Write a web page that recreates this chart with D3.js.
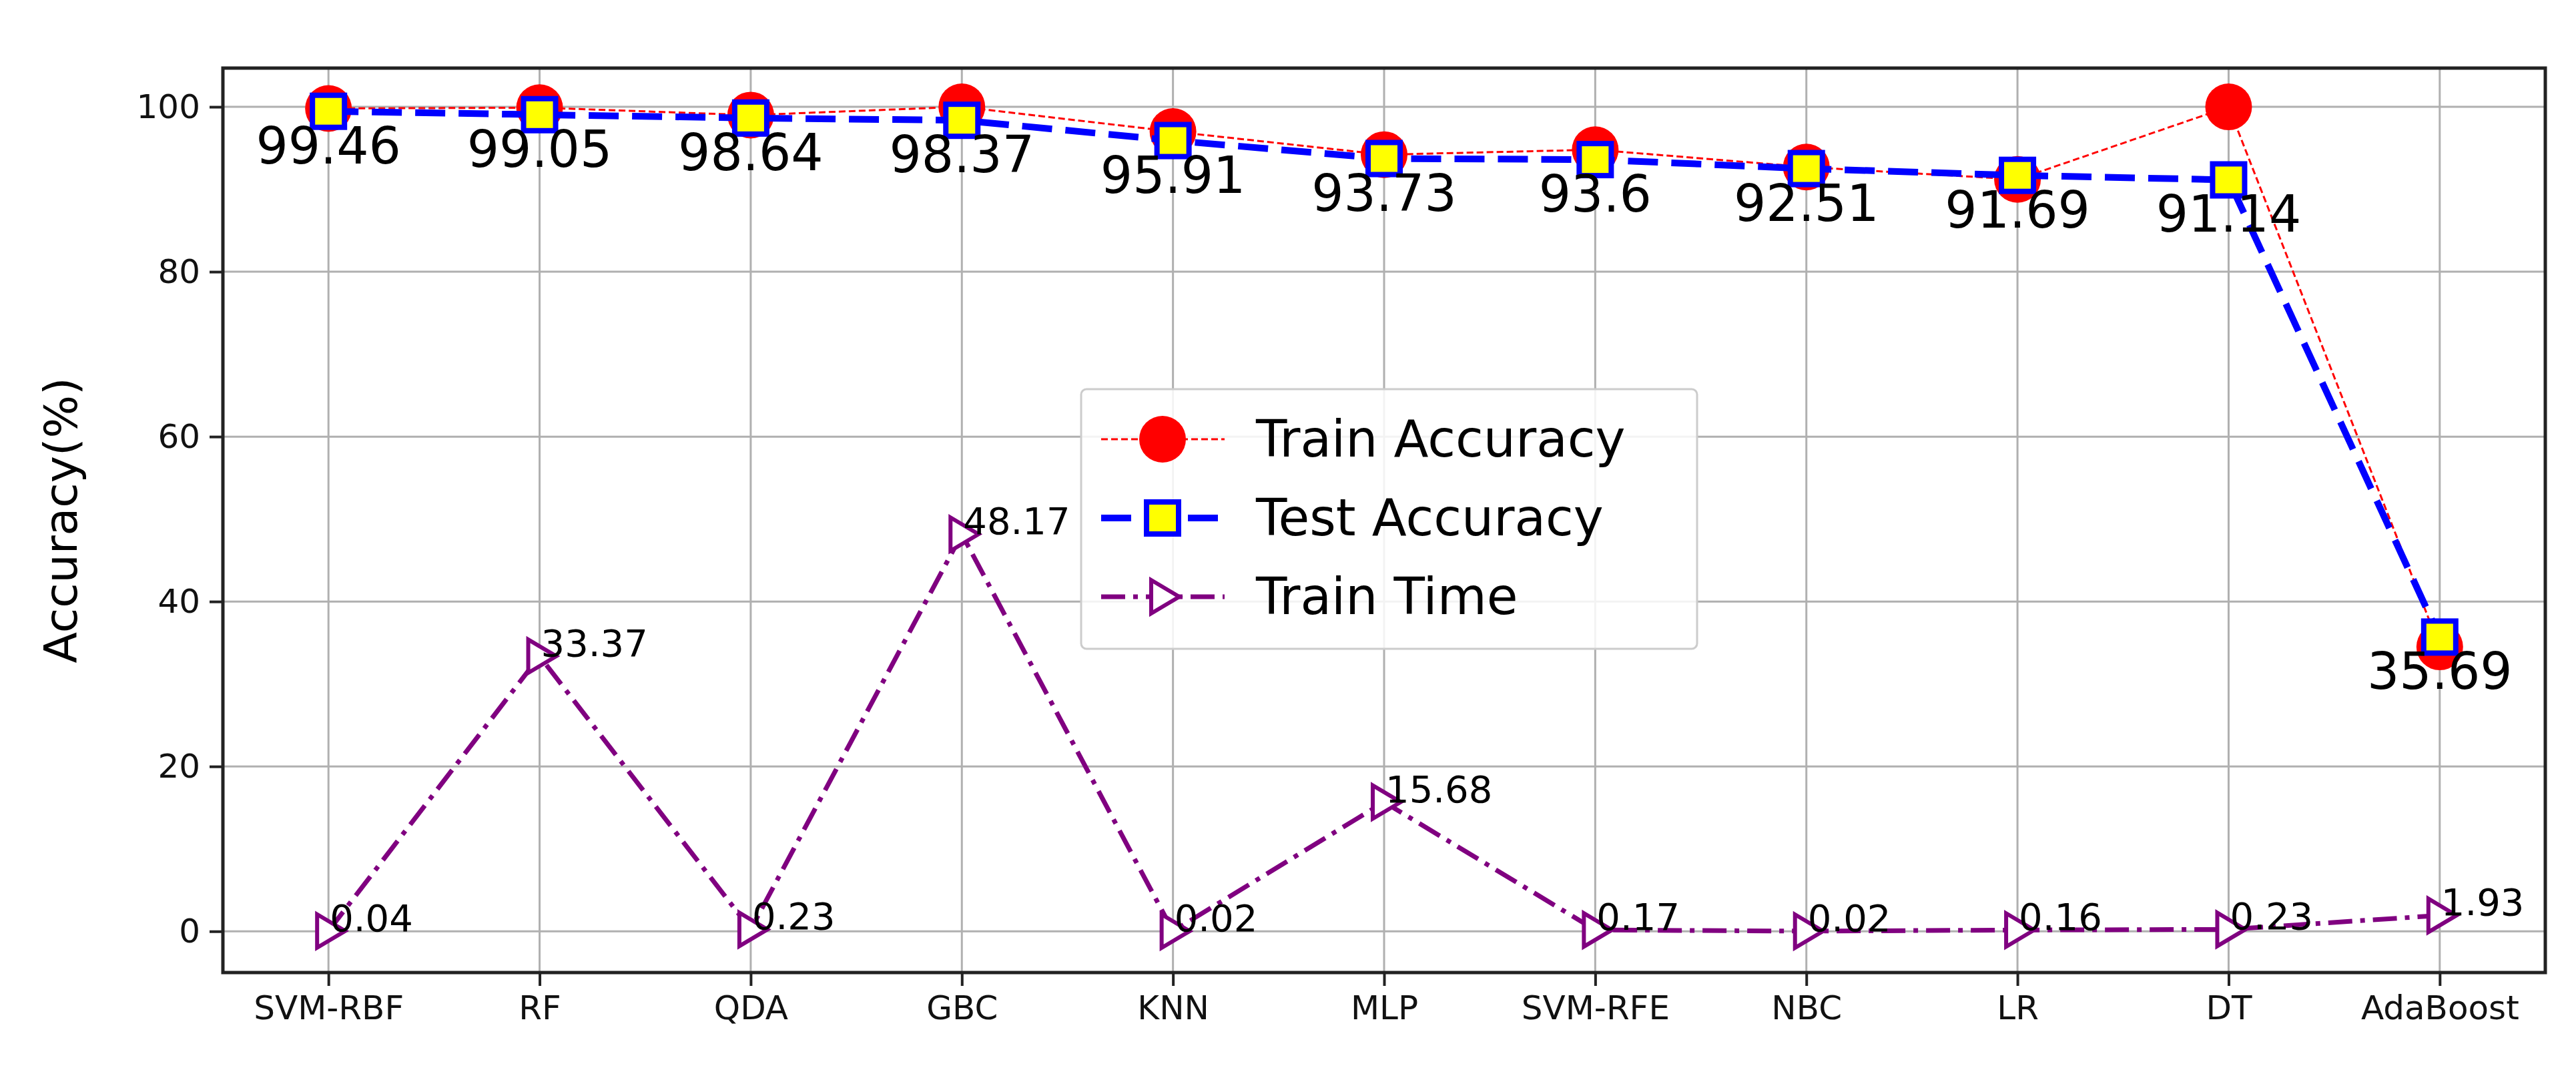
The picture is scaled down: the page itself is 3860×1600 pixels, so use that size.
<!DOCTYPE html>
<html>
<head>
<meta charset="utf-8">
<style>
  body { margin: 0; background: white; }
  text { font-family: "DejaVu Sans"; }
  .grid line { stroke: #b0b0b0; stroke-width: 3; }
</style>
</head>
<body>
<div id="chart"></div>
<script src="https://cdn.jsdelivr.net/npm/d3@7/dist/d3.min.js"></script>
<script>
let models = ["SVM-RBF", "RF", "QDA", "GBC", "KNN", "MLP", "SVM-RFE", "NBC", "LR", "DT", "AdaBoost"]
let trainAcc = [99.8, 99.9, 99.0, 100, 97.0, 94.2, 94.8, 92.7, 91.2, 100, 34.5]
let testAcc = [99.46, 99.05, 98.64, 98.37, 95.91, 93.73, 93.6, 92.51, 91.69, 91.14, 35.69]
let trainTime = [0.04, 33.37, 0.23, 48.17, 0.02, 15.68, 0.17, 0.02, 0.16, 0.23, 1.93]
let yTicks = [0, 20, 40, 60, 80, 100]

let width = 3860, height = 1600
let mLeft = 334, mRight = 3814, mTop = 102, mBottom = 1457

let svg = d3.select("#chart").append("svg")
    .attr("width", width).attr("height", height)

let x = d3.scalePoint().domain(models).range([mLeft, mRight]).padding(0.5)
let y = d3.scaleLinear().domain([-5.0, 104.7]).range([mBottom, mTop])

// grid
let grid = svg.append("g").attr("class", "grid")
grid.selectAll(".gx").data(models).enter().append("line")
    .attr("x1", d => x(d)).attr("x2", d => x(d)).attr("y1", mTop).attr("y2", mBottom)
grid.selectAll(".gy").data(yTicks).enter().append("line")
    .attr("x1", mLeft).attr("x2", mRight).attr("y1", d => y(d)).attr("y2", d => y(d))

// axes
let xAxis = svg.append("g").attr("transform", "translate(0," + mBottom + ")")
    .call(d3.axisBottom(x).tickSize(20).tickPadding(14))
let yAxis = svg.append("g").attr("transform", "translate(" + mLeft + ",0)")
    .call(d3.axisLeft(y).tickValues(yTicks).tickSize(20).tickPadding(14))
;[xAxis, yAxis].forEach(a => {
    a.select(".domain").remove()
    a.selectAll("line").attr("stroke", "#222").attr("stroke-width", 4)
    a.selectAll("text").attr("font-size", 50).attr("fill", "#111").attr("font-family", "DejaVu Sans")
})

svg.append("rect").attr("x", mLeft).attr("y", mTop)
    .attr("width", mRight - mLeft).attr("height", mBottom - mTop)
    .attr("fill", "none").attr("stroke", "#222").attr("stroke-width", 5)

svg.append("text")
    .attr("transform", "translate(115," + ((mTop + mBottom) / 2) + ") rotate(-90)")
    .attr("text-anchor", "middle").attr("font-size", 68)
    .text("Accuracy(%)")

let line = d3.line().x((d, i) => x(models[i])).y(d => y(d))

// train accuracy
svg.append("path").datum(trainAcc).attr("d", line)
    .attr("fill", "none").attr("stroke", "red").attr("stroke-width", 3)
    .attr("stroke-dasharray", "10,5")
svg.selectAll(".tr").data(trainAcc).enter().append("circle")
    .attr("cx", (d, i) => x(models[i])).attr("cy", d => y(d))
    .attr("r", 35).attr("fill", "red")

// test accuracy
svg.append("path").datum(testAcc).attr("d", line)
    .attr("fill", "none").attr("stroke", "blue").attr("stroke-width", 10)
    .attr("stroke-dasharray", "45,20")
svg.selectAll(".te").data(testAcc).enter().append("rect")
    .attr("x", (d, i) => x(models[i]) - 24).attr("y", d => y(d) - 24)
    .attr("width", 48).attr("height", 48)
    .attr("fill", "yellow").attr("stroke", "blue").attr("stroke-width", 8)

// train time
svg.append("path").datum(trainTime).attr("d", line)
    .attr("fill", "none").attr("stroke", "purple").attr("stroke-width", 7)
    .attr("stroke-dasharray", "36,12,7,12")
let tri = "M-17,-25 L25,0 L-17,25 Z"
svg.selectAll(".tt").data(trainTime).enter().append("path")
    .attr("d", tri)
    .attr("transform", (d, i) => "translate(" + x(models[i]) + "," + y(d) + ")")
    .attr("fill", "white").attr("stroke", "purple").attr("stroke-width", 6)

// labels
svg.selectAll(".lt").data(testAcc).enter().append("text")
    .attr("x", (d, i) => x(models[i])).attr("y", d => y(d) + 78)
    .attr("text-anchor", "middle").attr("font-size", 76)
    .text(d => d)
svg.selectAll(".ltt").data(trainTime).enter().append("text")
    .attr("x", (d, i) => x(models[i]) + 2).attr("y", d => y(d))
    .attr("font-size", 56)
    .text(d => d)

// legend
let lg = svg.append("g").attr("transform", "translate(1620,583)")
lg.append("rect").attr("width", 923).attr("height", 389).attr("rx", 8)
    .attr("fill", "white").attr("fill-opacity", 0.85)
    .attr("stroke", "#ccc").attr("stroke-width", 3)
let items = [
    {name: "Train Accuracy", k: "tr"},
    {name: "Test Accuracy", k: "te"},
    {name: "Train Time", k: "tt"}
]
items.forEach((it, i) => {
    let cy = 75 + i * 118
    let g = lg.append("g").attr("transform", "translate(0," + cy + ")")
    if (it.k === "tr") {
        g.append("line").attr("x1", 30).attr("x2", 215).attr("stroke", "red").attr("stroke-width", 3).attr("stroke-dasharray", "10,5")
        g.append("circle").attr("cx", 122).attr("r", 35).attr("fill", "red")
    } else if (it.k === "te") {
        g.append("line").attr("x1", 30).attr("x2", 215).attr("stroke", "blue").attr("stroke-width", 10).attr("stroke-dasharray", "45,20")
        g.append("rect").attr("x", 98).attr("y", -24).attr("width", 48).attr("height", 48)
            .attr("fill", "yellow").attr("stroke", "blue").attr("stroke-width", 8)
    } else {
        g.append("line").attr("x1", 30).attr("x2", 215).attr("stroke", "purple").attr("stroke-width", 7).attr("stroke-dasharray", "36,12,7,12")
        g.append("path").attr("d", tri).attr("transform", "translate(122,0)")
            .attr("fill", "white").attr("stroke", "purple").attr("stroke-width", 6)
    }
    g.append("text").attr("x", 262).attr("y", 26).attr("font-size", 76).text(it.name)
})
</script>
</body>
</html>
